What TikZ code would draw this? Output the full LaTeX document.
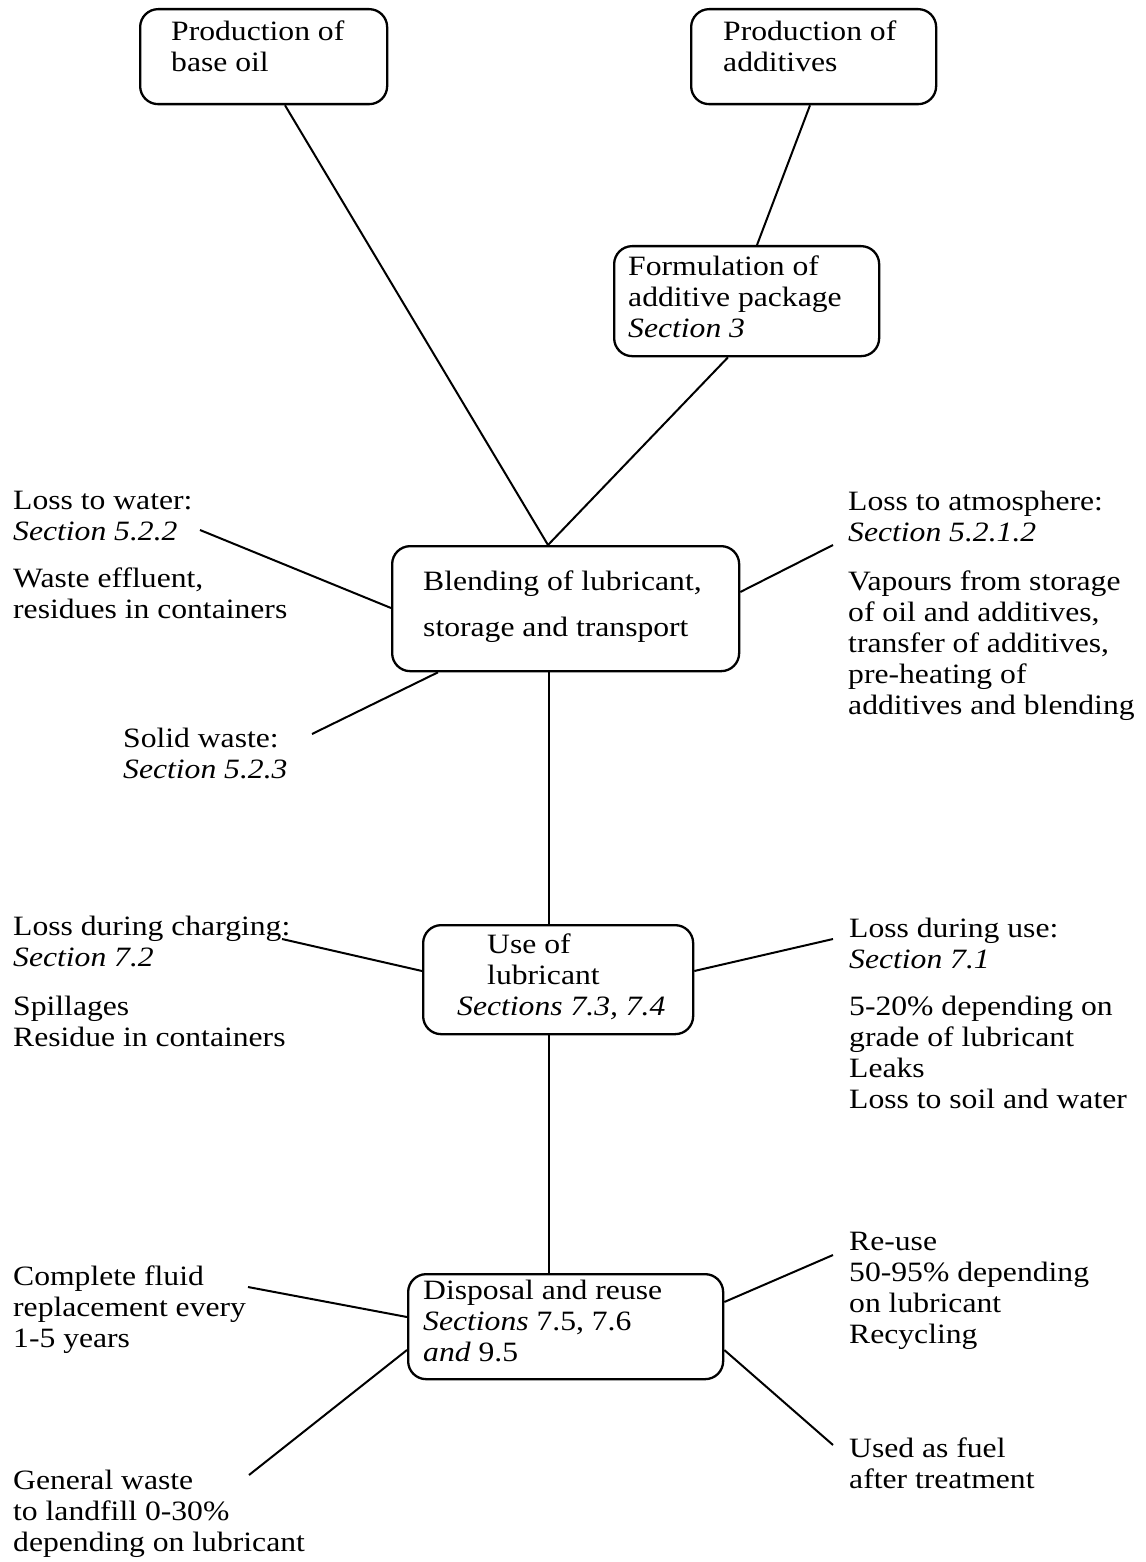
\documentclass[tikz,border=0pt]{standalone}
\usepackage{fontspec}
\setmainfont{Liberation Serif}[FakeStretch=1.13]
\usetikzlibrary{calc}
\begin{document}
\begin{tikzpicture}[x=1pt,y=-1pt,
  box/.style={draw, line width=2.3pt, rounded corners=18pt, inner sep=0pt, anchor=north west},
  txt/.style={anchor=north west, inner sep=0pt, align=left, font=\fontsize{28}{31}\selectfont, execute at begin node=\strut},
  link/.style={line width=2pt}]
\useasboundingbox (0,0) rectangle (1145,1562);
% boxes
\node[box, minimum width=247pt, minimum height=95pt] (base) at (139,8) {};
\node[box, minimum width=245pt, minimum height=95pt] (add) at (690,8) {};
\node[box, minimum width=265pt, minimum height=110pt] (form) at (613,245) {};
\node[box, minimum width=347pt, minimum height=125pt] (blend) at (391,545) {};
\node[box, minimum width=270pt, minimum height=109pt] (use) at (422,924) {};
\node[box, minimum width=315pt, minimum height=105pt] (disp) at (407,1273) {};
% box texts
\node[txt] (tbase) at (171,21) {Production of\\base oil};
\node[txt] (tadd) at (723,21) {Production of\\additives};
\node[txt] (tform) at (628,255.3) {Formulation of\\additive package\\\textit{Section 3}};
\node[txt] (tblend) at (423,570.3) {Blending of lubricant,\\[15pt]storage and transport};
\node[txt] (tuse) at (457,933.3) {\hspace*{30pt}Use of\\\hspace*{30pt}lubricant\\\textit{Sections 7.3, 7.4}};
\node[txt] (tdisp) at (423,1280.3) {Disposal and reuse\\\textit{Sections} 7.5, 7.6\\\textit{and} 9.5};
% side texts
\node[txt] (twater) at (13,491.3) {Loss to water:\\\textit{Section 5.2.2}\\[16pt]Waste effluent,\\residues in containers};
\node[txt] (tatm) at (848,491.3) {Loss to atmosphere:\\\textit{Section 5.2.1.2}\\[18pt]Vapours from storage\\of oil and additives,\\transfer of additives,\\pre-heating of\\additives and blending};
\node[txt] (tsolid) at (123,728.3) {Solid waste:\\\textit{Section 5.2.3}};
\node[txt] (tcharge) at (13,916.3) {Loss during charging:\\\textit{Section 7.2}\\[18pt]Spillages\\Residue in containers};
\node[txt] (tuseloss) at (849,918.3) {Loss during use:\\\textit{Section 7.1}\\[16pt]5-20\% depending on\\grade of lubricant\\Leaks\\Loss to soil and water};
\node[txt] (tcomp) at (13,1265.3) {Complete fluid\\replacement every\\1-5 years};
\node[txt] (tgen) at (13,1470.3) {General waste\\to landfill 0-30\%\\depending on lubricant};
\node[txt] (treuse) at (849,1232.3) {Re-use\\50-95\% depending\\on lubricant\\Recycling};
\node[txt] (tfuel) at (849,1437.3) {Used as fuel\\after treatment};
% main connectors
\draw[link] ($(base.south west)+(146,0)$) -- ($(blend.north west)+(157,0)$);
\draw[link] ($(add.south west)+(120,0)$) -- ($(form.north west)+(144,0)$);
\draw[link] ($(form.south west)+(115,0)$) -- ($(blend.north west)+(157,0)$);
\draw[link] ($(blend.south west)+(158,0)$) -- ($(use.north west)+(127,0)$);
\draw[link] ($(use.south west)+(127,0)$) -- ($(disp.north west)+(142,0)$);
% side connectors
\coordinate (cw) at (200,530);
\coordinate (cs) at (312,734);
\coordinate (ca) at (833,545);
\coordinate (cc) at (282,939);
\coordinate (cu) at (833,939);
\coordinate (cf) at (248,1287);
\coordinate (cg) at (249,1475);
\coordinate (cr) at (833,1255);
\coordinate (cx) at (833,1445);
\draw[link] (cw) -- ($(blend.north west)+(0,63)$);
\draw[link] (cs) -- ($(blend.south west)+(47,0)$);
\draw[link] (ca) -- ($(blend.north east)+(0,47)$);
\draw[link] (cc) -- ($(use.north west)+(0,47)$);
\draw[link] (cu) -- ($(use.north east)+(0,47)$);
\draw[link] (cf) -- ($(disp.north west)+(0,44)$);
\draw[link] (cg) -- ($(disp.north west)+(0,77)$);
\draw[link] (cr) -- ($(disp.north east)+(0,29)$);
\draw[link] (cx) -- ($(disp.north east)+(0,77)$);
\end{tikzpicture}
\end{document}
